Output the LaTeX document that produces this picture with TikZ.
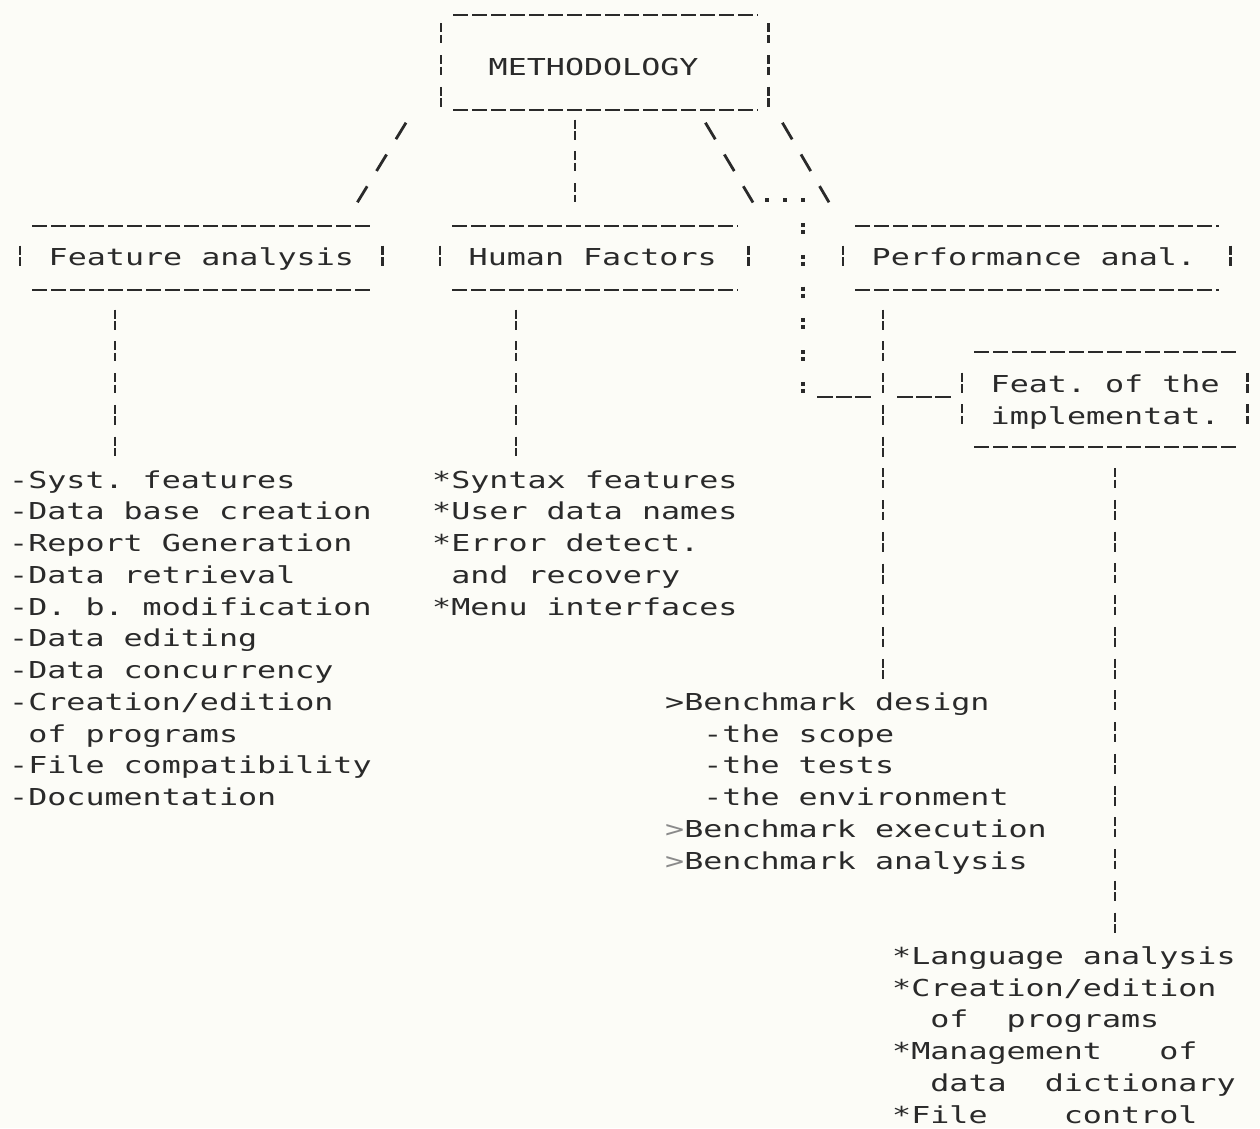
\documentclass[tikz,border=0pt]{standalone}
\usepackage{fontspec}
\newfontfamily\dm[FakeStretch=1.36]{DejaVu Sans Mono}
\definecolor{ink}{HTML}{2A2A2A}
\definecolor{paper}{HTML}{FCFCF7}
\newcommand\dmfont{\dm\fontsize{23.3pt}{31.75pt}\selectfont\frenchspacing\setbox0\hbox{x}\fontdimen2\font=\wd0\relax}
\newcommand\SP{\phantom{x}}
\newcommand\Ln[1]{\hbox{#1}}
\newcommand\stack[1]{\vtop{#1}}
\newcommand\bxw[2]{\makebox[#1][l]{#2}}
\newcommand\asciiframe[3]{%
  \draw[hdash] ([xshift=12pt]#1.north west) -- ([xshift=-11pt]#1.north east);
  \draw[hdash] ([xshift=12pt]#1.south west) -- ([xshift=-11pt]#1.south east);
  \draw[vbar] ([yshift=-#2]#1.north west) -- ([yshift=#3]#1.south west);
  \draw[vbar] ([yshift=-#2]#1.north east) -- ([yshift=#3]#1.south east);}
\begin{document}
\begin{tikzpicture}[x=1pt,y=-1pt,
  every node/.style={font=\dmfont, text=ink, inner sep=0pt},
  box/.style={anchor=base west, inner ysep=0pt},
  lst/.style={anchor=base west},
  hdash/.style={draw=ink, line width=2.4pt, dash pattern=on 15pt off 4pt},
  vbar/.style={draw=ink, line width=2.6pt, dash pattern=on 9pt off 2.5pt on 8.5pt off 11.75pt},
  slashA/.style={draw=ink, line width=2.8pt, dash pattern=on 19.3pt off 17.96pt},
  slashB/.style={draw=ink, line width=2.8pt, dash pattern=on 19.3pt off 17.45pt},
  slashC/.style={draw=ink, line width=2.8pt, dash pattern=on 19.3pt off 17.7pt},
  dotrow/.style={draw=ink, line width=4pt, dash pattern=on 4pt off 14pt},
  colon/.style={draw=ink, line width=4.2pt, dash pattern=on 4pt off 3pt on 4pt off 20.75pt},
  uscore/.style={draw=ink, line width=2.4pt, dash pattern=on 16pt off 3pt on 16pt off 3pt on 16pt off 26pt}]
\fill[paper] (0,0) rectangle (1260,1128);
\useasboundingbox (0,0) rectangle (1260,1128);

% boxes
\node[box, inner xsep=47.5pt, text height=60.25pt, text depth=34.75pt] (meth) at (441,75.25) {\bxw{232pt}{METHODOLOGY}};
\node[box, inner xsep=28.5pt, text height=39.75pt, text depth=23.75pt] (fa) at (20,265.75) {\bxw{305pt}{Feature analysis}};
\node[box, inner xsep=28.5pt, text height=39.75pt, text depth=23.75pt] (hf) at (440,265.75) {\bxw{251pt}{Human Factors}};
\node[box, inner xsep=28.5pt, text height=39.75pt, text depth=23.75pt] (pa) at (843,265.75) {\bxw{330pt}{Performance anal.}};
\node[box, inner xsep=28.5pt, text height=40.75pt, text depth=54.25pt] (fi) at (962,392.75) {\bxw{228pt}{\stack{\Ln{Feat. of the}\Ln{implementat.}}}};
\asciiframe{meth}{8.5pt}{3pt}
\asciiframe{fa}{19.75pt}{23.75pt}
\asciiframe{hf}{19.75pt}{23.75pt}
\asciiframe{pa}{19.75pt}{23.75pt}
\asciiframe{fi}{20.75pt}{22.5pt}

% lists
\node[lst] (fal) at (9,488) {\stack{%
  \Ln{-Syst. features}\Ln{-Data base creation}\Ln{-Report Generation}%
  \Ln{-Data retrieval}\Ln{-D. b. modification}\Ln{-Data editing}%
  \Ln{-Data concurrency}\Ln{-Creation/edition}\Ln{\SP of programs}%
  \Ln{-File compatibility}\Ln{-Documentation}}};
\node[lst] (hfl) at (432,488) {\stack{%
  \Ln{*Syntax features}\Ln{*User data names}\Ln{*Error detect.}%
  \Ln{\SP and recovery}\Ln{*Menu interfaces}}};
\node[lst] (pal) at (665,710.25) {\stack{%
  \Ln{>Benchmark design}\Ln{\SP\SP-the scope}\Ln{\SP\SP-the tests}%
  \Ln{\SP\SP-the environment}\Ln{\textcolor{ink!55}{>}Benchmark execution}%
  \Ln{\textcolor{ink!55}{>}Benchmark analysis}}};
\node[lst] (fil) at (892,964.25) {\stack{%
  \Ln{*Language analysis}\Ln{*Creation/edition}\Ln{\SP\SP of\SP\SP programs}%
  \Ln{*Management\SP\SP\SP of}\Ln{\SP\SP data\SP\SP dictionary}%
  \Ln{*File\SP\SP\SP\SP control}}};

% connectors from METHODOLOGY
\draw[slashA] ([xshift=-35pt,yshift=-12.5pt]meth.south west) -- ([xshift=-25pt,yshift=23.5pt]fa.north east);
\draw[vbar] ([xshift=134pt,yshift=-9.5pt]meth.south west) -- ([xshift=135pt,yshift=23.5pt]hf.north west);
\draw[slashB] ([xshift=14pt,yshift=-12.5pt]meth.south east) -- ([xshift=-14pt,yshift=23.5pt]pa.north west);
\coordinate (k1) at (753,202.5);
\coordinate (k2) at (803,223);
\coordinate (k3) at (803,392.75);
\draw[slashC] ([xshift=-63pt,yshift=-12.5pt]meth.south east) -- (k1);
\draw[dotrow] ([xshift=12pt,yshift=2.5pt]k1) -- ([xshift=2pt,yshift=2.5pt]k1 -| k2);
\draw[colon] (k2) -- (k3);
\draw[uscore] ([xshift=14pt,yshift=-4.25pt]k3) -- ([xshift=-9pt,yshift=2.5pt]fi.west);

% connectors to lists
\draw[vbar] ([xshift=95pt,yshift=-20pt]fa.south west) -- ([xshift=106pt,yshift=31.75pt]fal.base west);
\draw[vbar] ([xshift=76pt,yshift=-20pt]hf.south west) -- ([xshift=84pt,yshift=31.75pt]hfl.base west);
\draw[vbar] ([xshift=40pt,yshift=-20pt]pa.south west) -- ([xshift=218pt,yshift=31.75pt]pal.base west);
\draw[vbar] ([xshift=153pt,yshift=-21pt]fi.south west) -- ([xshift=223pt,yshift=31.75pt]fil.base west);
\end{tikzpicture}
\end{document}
